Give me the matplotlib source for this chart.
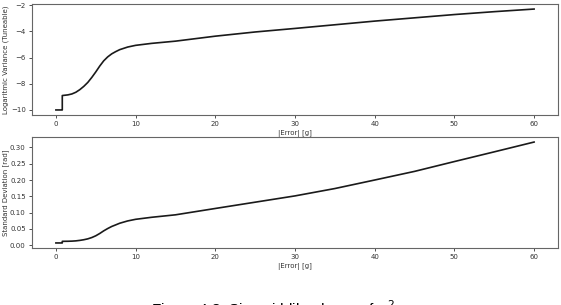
import matplotlib
matplotlib.use("Agg")
import matplotlib.pyplot as plt
import numpy as np

# |Error| [g]
error_g = [0.0, 0.7, 0.7, 0.8, 0.8, 1.5, 2.0, 2.5, 3.0, 3.5, 4.0, 4.5, 5.0, 5.5, 6.0, 6.5, 7.0,
           7.5, 8.0, 9.0, 10.0, 12.0, 15.0, 20.0, 25.0, 30.0, 35.0, 40.0, 45.0, 50.0, 55.0, 60.0]
# Logarithmic variance (tuneable)
log_var = [-10.0, -10.0, -10.0, -10.0, -8.9, -8.85, -8.78, -8.65, -8.45, -8.2, -7.9, -7.52, -7.1,
           -6.65, -6.25, -5.95, -5.72, -5.55, -5.4, -5.2, -5.07, -4.92, -4.75, -4.37, -4.05, -3.78,
           -3.5, -3.22, -2.97, -2.72, -2.5, -2.3]
# Standard deviation [rad]
std_dev = [0.0067, 0.0067, 0.0067, 0.0067, 0.0117, 0.0119, 0.0123, 0.0131, 0.0146, 0.0166, 0.0193,
           0.0233, 0.0287, 0.0358, 0.0439, 0.0510, 0.0573, 0.0622, 0.0672, 0.0743, 0.0793, 0.0855,
           0.0931, 0.1126, 0.1319, 0.1512, 0.1738, 0.2000, 0.2265, 0.2567, 0.2865, 0.3166]

fig = plt.figure(figsize=(5.61, 3.05), dpi=100)
ax1 = fig.add_axes([32/561, 1-115/305, 526/561, 111/305])
ax2 = fig.add_axes([32/561, 1-248/305, 526/561, 111/305])

for ax, y, lab in [(ax1, log_var, "Logaritmic Variance (Tuneable)"),
                   (ax2, std_dev, "Standard Deviation [rad]")]:
    ax.plot(error_g, y, color="#1a1a1a", lw=1.2)
    ax.set_xlabel("|Error| [g]", fontsize=5, labelpad=2, color="#333333")
    ax.set_ylabel(lab, fontsize=5, labelpad=2, color="#333333")
    ax.tick_params(labelsize=5, length=2.5, width=0.6, pad=2, colors="#333333")
    for s in ax.spines.values():
        s.set_color("#666666")
        s.set_linewidth(0.8)
    ax.set_xticks([0, 10, 20, 30, 40, 50, 60])

ax1.set_yticks([-2, -4, -6, -8, -10])
ax2.set_yticks([0.0, 0.05, 0.10, 0.15, 0.20, 0.25, 0.30])
ax2.yaxis.set_major_formatter(matplotlib.ticker.FormatStrFormatter("%.2f"))
for ax in (ax1, ax2):
    ax.yaxis.set_label_coords(-23/526, 0.5)

fig.text(151/561, 1-298/305, r"Figure 4.3: Sigmoid-like decay of $\sigma^2$",
         fontsize=11, family="Liberation Sans", va="top", ha="left")

fig.savefig("out.png", dpi=100)
